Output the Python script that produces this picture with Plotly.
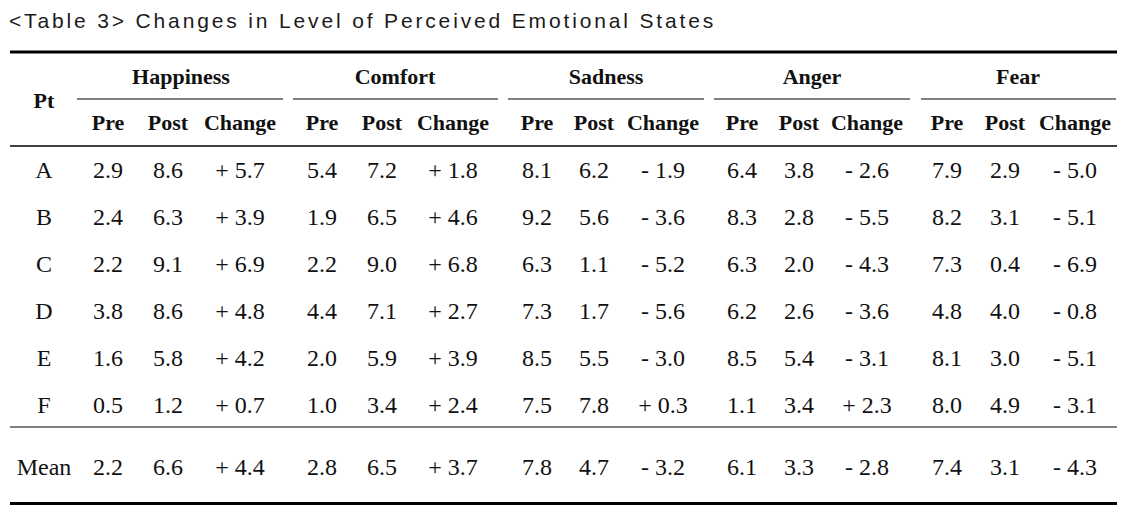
import plotly.graph_objects as go

# ---------------- data ----------------
title_text = "<Table 3> Changes in Level of Perceived Emotional States"
participants = ["A", "B", "C", "D", "E", "F"]
mean_label = "Mean"
pt_label = "Pt"
emotions = ["Happiness", "Comfort", "Sadness", "Anger", "Fear"]
sub_headers = ["Pre", "Post", "Change"]

happiness_pre = [2.9, 2.4, 2.2, 3.8, 1.6, 0.5]
happiness_post = [8.6, 6.3, 9.1, 8.6, 5.8, 1.2]
happiness_change = [5.7, 3.9, 6.9, 4.8, 4.2, 0.7]

comfort_pre = [5.4, 1.9, 2.2, 4.4, 2.0, 1.0]
comfort_post = [7.2, 6.5, 9.0, 7.1, 5.9, 3.4]
comfort_change = [1.8, 4.6, 6.8, 2.7, 3.9, 2.4]

sadness_pre = [8.1, 9.2, 6.3, 7.3, 8.5, 7.5]
sadness_post = [6.2, 5.6, 1.1, 1.7, 5.5, 7.8]
sadness_change = [-1.9, -3.6, -5.2, -5.6, -3.0, 0.3]

anger_pre = [6.4, 8.3, 6.3, 6.2, 8.5, 1.1]
anger_post = [3.8, 2.8, 2.0, 2.6, 5.4, 3.4]
anger_change = [-2.6, -5.5, -4.3, -3.6, -3.1, 2.3]

fear_pre = [7.9, 8.2, 7.3, 4.8, 8.1, 8.0]
fear_post = [2.9, 3.1, 0.4, 4.0, 3.0, 4.9]
fear_change = [-5.0, -5.1, -6.9, -0.8, -5.1, -3.1]

mean_pre = [2.2, 2.8, 7.8, 6.1, 7.4]
mean_post = [6.6, 6.5, 4.7, 3.3, 3.1]
mean_change = [4.4, 3.7, -3.2, -2.8, -4.3]

# ---------------- layout (pixel frame) ----------------
W, H = 1136, 508
SERIF = "Liberation Serif, Times New Roman, serif"
INK = "#111111"
GRAY = "#808080"

group_centers = [181, 395, 606, 812, 1018]
group_spans = [(77, 283), (293, 498), (508, 704), (714, 910), (921, 1116)]
col_pre = [108, 322, 537, 742, 947]
col_post = [168, 382, 594, 799, 1005]
col_change = [240, 453, 663, 867, 1075]
label_x = 44
row_y = [171.5, 218.5, 265.5, 312.5, 359.5, 406.5]
mean_y = 468.5
group_y, pt_y, sub_y = 78, 102, 124.5

def fmt_change(v):
    return ("+ " if v > 0 else "- ") + f"{abs(v):.1f}"

series = [
    (happiness_pre, happiness_post, happiness_change),
    (comfort_pre, comfort_post, comfort_change),
    (sadness_pre, sadness_post, sadness_change),
    (anger_pre, anger_post, anger_change),
    (fear_pre, fear_post, fear_change),
]

fig = go.Figure()

def add_text(xs, ys, texts, size, bold=False):
    fig.add_trace(go.Scatter(
        x=xs, y=ys, text=texts, mode="text",
        textposition="middle center",
        textfont=dict(family=SERIF, size=size, color=INK,
                      weight="bold" if bold else "normal"),
        hoverinfo="skip", showlegend=False, cliponaxis=False,
    ))

# header
add_text(group_centers, [group_y] * len(emotions), emotions, 22, bold=True)
add_text([label_x], [pt_y], [pt_label], 22, bold=True)
hx, hy, ht = [], [], []
for g in range(len(emotions)):
    for cx, name in zip((col_pre[g], col_post[g], col_change[g]), sub_headers):
        hx.append(cx); hy.append(sub_y); ht.append(name)
add_text(hx, hy, ht, 22, bold=True)

# row labels
add_text([label_x] * len(participants) + [label_x], row_y + [mean_y],
         participants + [mean_label], 24)

# body values
for g, (pre, post, chg) in enumerate(series):
    add_text([col_pre[g]] * len(pre), row_y, [f"{v:.1f}" for v in pre], 24)
    add_text([col_post[g]] * len(post), row_y, [f"{v:.1f}" for v in post], 24)
    add_text([col_change[g]] * len(chg), row_y, [fmt_change(v) for v in chg], 24)

# mean row
add_text(col_pre, [mean_y] * 5, [f"{v:.1f}" for v in mean_pre], 24)
add_text(col_post, [mean_y] * 5, [f"{v:.1f}" for v in mean_post], 24)
add_text(col_change, [mean_y] * 5, [fmt_change(v) for v in mean_change], 24)

# rules
shapes = []
def hline(x0, x1, y, width, color):
    shapes.append(dict(type="line", xref="x", yref="y", x0=x0, x1=x1,
                       y0=y, y1=y, line=dict(color=color, width=width)))

hline(10, 1117, 52, 3, "#000000")
for a, b in group_spans:
    hline(a, b, 99, 2, GRAY)
hline(10, 1117, 146, 1.3, "#000000")
hline(10, 1117, 427, 2, GRAY)
hline(10, 1117, 503.5, 3, "#000000")

safe_title = title_text.replace("<", "&lt;").replace(">", "&gt;")

fig.update_layout(
    width=W, height=H,
    margin=dict(l=0, r=0, t=0, b=0),
    paper_bgcolor="white", plot_bgcolor="white",
    xaxis=dict(range=[0, W], visible=False, fixedrange=True),
    yaxis=dict(range=[H, 0], visible=False, fixedrange=True),
    shapes=shapes,
    title=dict(text=safe_title, x=9 / W, xanchor="left", xref="paper",
               y=1 - 21 / H, yanchor="middle", yref="paper",
               font=dict(family="Liberation Sans, Arial, sans-serif", size=21, color="#1a1a1a")),
)

fig.write_html(
    "out.html",
    config={"displayModeBar": False, "staticPlot": True},
    post_script=(
        "document.body.style.margin='0';"
        "document.querySelectorAll('.gtitle').forEach(function(e){e.style.letterSpacing='2.85px';});"
    ),
)
